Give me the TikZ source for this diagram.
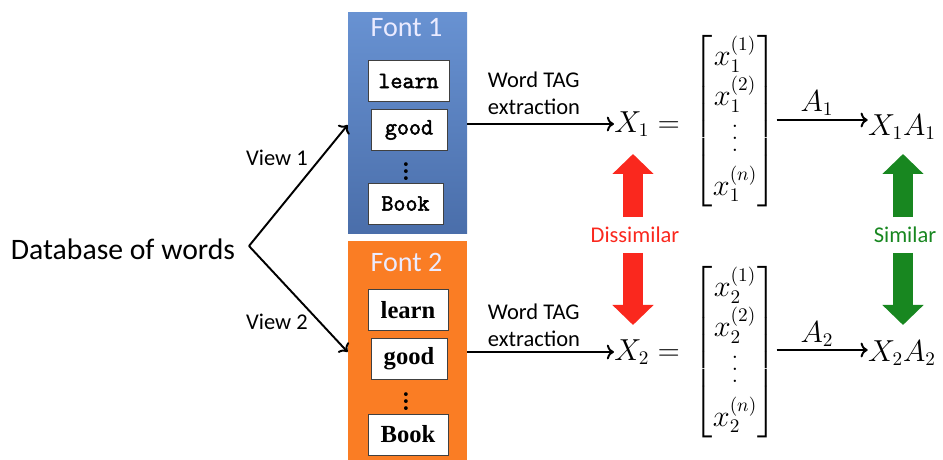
\documentclass[tikz,border=0pt]{standalone}
\usepackage{amsmath}
\usepackage{amssymb}
\usepackage[no-math]{fontspec}
\setmainfont{Carlito}
\newfontfamily\timesbold{Liberation Serif}
\newfontfamily\courierbold[FakeBold=2.2]{Latin Modern Mono}
\newfontfamily\lmroman{Latin Modern Roman}
\newcommand{\tallvdots}{\vbox{\baselineskip7pt\lineskiplimit0pt\kern4pt\hbox{.}\hbox{.}\hbox{.}}}
\usepackage{tikz}
\usetikzlibrary{shapes.geometric, arrows, arrows.meta, positioning, calc}
\definecolor{fonttop}{RGB}{104,146,210}
\definecolor{fontbot}{RGB}{74,110,170}
\definecolor{fontorange}{RGB}{250,125,36}
\definecolor{dissred}{RGB}{250,40,30}
\definecolor{simgreen}{RGB}{24,135,32}

\begin{document}
\begin{tikzpicture}[x=0.2mm, y=-0.2mm,
  every node/.style={inner sep=0pt},
  conn/.style={->, line width=1.1pt},
  fontbox/.style={minimum width=23.8mm, anchor=north},
  fonttitle/.style={text=white!92!blue, font=\fontsize{16}{18}\selectfont},
  wordbox/.style={draw=black!75, fill=white, line width=0.5pt, minimum height=8.2mm},
  ttword/.style={wordbox, font=\courierbold\fontsize{13.3}{15}\selectfont},
  rmword/.style={wordbox, font=\timesbold\bfseries\fontsize{14}{16}\selectfont},
  wdots/.style={font=\lmroman\bfseries\fontsize{15}{17}\selectfont},
  lbl/.style={font=\fontsize{12.8}{15.5}\selectfont},
  mathlbl/.style={font=\lmroman\fontsize{16.3}{19.5}\selectfont},
  blockarrow/.style={line width=4mm, -{Triangle[length=4mm, width=8mm]}}]
\useasboundingbox (0,0) rectangle (943,460);

% input and the two views
\node[font=\fontsize{16.9}{20}\selectfont] (db) at (123,249) {Database of words};
\coordinate (split) at (249,246);
\node[fontbox, top color=fonttop, bottom color=fontbot, minimum height=44.2mm] (font1) at (407.5,12) {};
\node[fontbox, fill=fontorange, minimum height=43.8mm] (font2) at (407.5,241) {};
\draw[conn] (split) -- (font1.west |- 0,125);
\draw[conn] (split) -- (font2.west |- 0,352);
\node[lbl] (v1) at (277,158) {View 1};
\node[lbl] (v2) at (277,322) {View 2};

% Font 1 samples
\node[fonttitle] (t1) at (406.5,28) {Font 1};
\node[ttword, minimum width=16.2mm] (learn1) at (408.5,81) {learn};
\node[ttword, minimum width=15.2mm] (good1) at (409,130) {good};
\node[wdots] (dots1) at (406,166) {$\vdots$};
\node[ttword, minimum width=15mm] (book1) at (405.5,203.5) {Book};

% Font 2 samples
\node[fonttitle] (t2) at (406.5,262) {Font 2};
\node[rmword, minimum width=16mm] (learn2) at (408,310) {learn};
\node[rmword, minimum width=15.2mm] (good2) at (409,358.5) {good};
\node[wdots] (dots2) at (406,396) {$\vdots$};
\node[rmword, minimum width=16mm] (book2) at (408,434.5) {Book};

% tag extraction
\node[mathlbl] (x1) at (647,124) {$X_1 =$};
\node[mathlbl] (x2) at (647,352) {$X_2 =$};
\draw[conn] (font1.east |- x1) -- (x1.west);
\draw[conn] (font2.east |- x2) -- (x2.west);
\node[lbl, align=left] (tag1) at (534,93) {Word TAG\\extraction};
\node[lbl, align=left] (tag2) at (534,325) {Word TAG\\extraction};

% feature vectors
\node[mathlbl] (m1) at (735,121) {$\begin{bmatrix} x_1^{(1)}\\ x_1^{(2)}\\[1pt] \tallvdots\\[2pt] x_1^{(n)} \end{bmatrix}$};
\node[mathlbl] (m2) at (735,352) {$\begin{bmatrix} x_2^{(1)}\\ x_2^{(2)}\\[1pt] \tallvdots\\[2pt] x_2^{(n)} \end{bmatrix}$};
\node[mathlbl] (p1) at (902,127) {$X_1A_1$};
\node[mathlbl] (p2) at (902,353) {$X_2A_2$};
\draw[conn] (m1.east |- 0,120) -- (p1.west |- 0,120);
\draw[conn] (m2.east |- 0,350) -- (p2.west |- 0,350);
\node[mathlbl] (a1) at (817,103) {$A_1$};
\node[mathlbl] (a2) at (817,334) {$A_2$};

% comparison
\node[lbl, text=dissred, minimum height=7mm] (diss) at (635,235) {Dissimilar};
\node[lbl, text=simgreen, minimum height=7mm] (sim) at (905,235) {Similar};
\coordinate (dissup) at (633,154);
\coordinate (dissdown) at (633,325);
\coordinate (simup) at (903,154);
\coordinate (simdown) at (903,325);
\draw[blockarrow, dissred] (diss.north -| dissup) -- (dissup);
\draw[blockarrow, dissred] (diss.south -| dissdown) -- (dissdown);
\draw[blockarrow, simgreen] (sim.north -| simup) -- (simup);
\draw[blockarrow, simgreen] (sim.south -| simdown) -- (simdown);
\end{tikzpicture}
\end{document}
